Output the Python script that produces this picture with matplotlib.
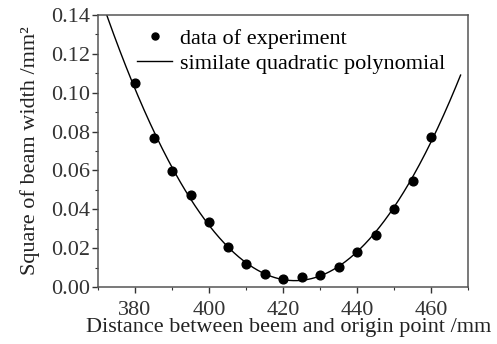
import matplotlib
matplotlib.use("Agg")
import matplotlib.pyplot as plt
import numpy as np
from matplotlib.ticker import MultipleLocator, FormatStrFormatter

distance = [380, 385, 390, 395, 400, 405, 410, 415, 420, 425, 430, 435, 440, 445, 450, 455, 460]
width_sq = [0.1048, 0.0765, 0.0599, 0.0472, 0.0336, 0.0204, 0.0118, 0.0067, 0.0041,
            0.0051, 0.0062, 0.0105, 0.0179, 0.0269, 0.0401, 0.0546, 0.0774]

plt.rcParams["font.family"] = ["Liberation Serif", "DejaVu Serif"]

# quadratic fit of the measured data
coef = np.polyfit(distance, width_sq, 2)
xs = np.linspace(370, 468, 300)
ys = np.polyval(coef, xs)

fig = plt.figure(figsize=(4.97, 3.44), dpi=100)
ax = fig.add_axes([98 / 497, 1 - 287 / 344, 370 / 497, 272 / 344])

ax.plot(distance, width_sq, "o", color="black", ms=6.3, label="data of experiment")
ax.plot(xs, ys, "-", color="black", lw=1.0, label="similate quadratic polynomial")

ax.set_xlim(370, 470)
ax.set_ylim(0, 0.14)
ax.xaxis.set_major_locator(MultipleLocator(20))
ax.xaxis.set_minor_locator(MultipleLocator(10))
ax.yaxis.set_major_locator(MultipleLocator(0.02))
ax.yaxis.set_minor_locator(MultipleLocator(0.01))
ax.yaxis.set_major_formatter(FormatStrFormatter("%.2f"))
ax.tick_params(which="major", direction="out", length=4, width=1, labelsize=16,
               colors="#333333", pad=2)
ax.tick_params(axis="x", which="major", pad=6)
ax.tick_params(which="minor", direction="out", length=2.5, width=0.8, colors="#333333")
for s in ax.spines.values():
    s.set_color("#555555")
    s.set_linewidth(1.1)

ax.set_xlabel("Distance between beem and origin point /mm", fontsize=16, color="#222222", labelpad=3)
ax.xaxis.set_label_coords(0.515, -0.115)
ax.set_ylabel("Square of beam width /mm²", fontsize=16, color="#222222", labelpad=8)

ax.legend(loc="upper left", frameon=False, fontsize=16, handlelength=1.6, handletextpad=0.35,
          labelspacing=0.2, borderaxespad=0.0, borderpad=0.0, markerscale=0.8,
          bbox_to_anchor=(0.105, 0.95))

fig.savefig("out.png", dpi=100)
